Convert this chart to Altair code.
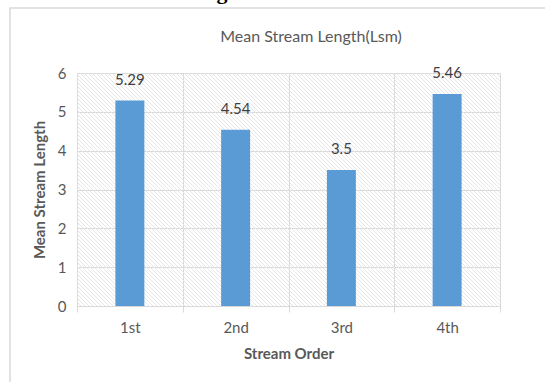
import altair as alt
import pandas as pd

orders = ["1st", "2nd", "3rd", "4th"]
values = [5.29, 4.54, 3.5, 5.46]
labels = ["5.29", "4.54", "3.5", "5.46"]

W, H = 423, 233
FONT = "Lato"
GRAY = "#595959"
GRID = "#d9d9d9"

df = pd.DataFrame({"order": orders, "value": values, "label": labels})
one = pd.DataFrame({"k": [0]})

xenc = alt.X("order:N", sort=orders, title="Stream Order",
             scale=alt.Scale(paddingInner=0, paddingOuter=0),
             axis=alt.Axis(labelAngle=0, tickBand="extent", grid=True, gridColor=GRID,
                           domainColor=GRID, tickColor=GRID, tickSize=6, labelPadding=8,
                           labelFont=FONT, labelFontSize=15, labelColor=GRAY,
                           titleFont=FONT, titleFontSize=15, titleFontWeight="bold",
                           titleColor=GRAY, titlePadding=11))
yenc = alt.Y("value:Q", title="Mean Stream Length",
             scale=alt.Scale(domain=[0, 6]),
             axis=alt.Axis(values=[0, 1, 2, 3, 4, 5, 6], domain=False, ticks=False,
                           labelOverlap=False, gridColor=GRID, labelPadding=11,
                           labelFont=FONT, labelFontSize=15, labelColor=GRAY,
                           titleFont=FONT, titleFontSize=15, titleFontWeight="bold",
                           titleColor=GRAY, titlePadding=10))

# hatch background
hatch = alt.Chart(alt.sequence(-H - 4, W + 4, 4, as_="x0")).transform_calculate(
    x1=f"datum.x0 + {H}", y0="0", y1=f"{H}"
).mark_rule(color="#e6e6e6", strokeWidth=1, clip=True).encode(
    x=alt.X("x0:Q", scale=None, axis=None),
    x2="x1:Q",
    y=alt.Y("y0:Q", scale=None, axis=None),
    y2="y1:Q",
)

bars = alt.Chart(df).mark_bar(color="#5b9bd5", width=alt.RelativeBandSize(0.274)).encode(
    x=xenc, y=yenc
)
text = alt.Chart(df).mark_text(font=FONT, fontSize=15, color="#404040",
                               baseline="middle", dy=-21).encode(
    x=xenc, y=yenc, text="label:N"
)

border = alt.Chart(one).mark_rect(fill=None, stroke=GRID, strokeWidth=1.5).encode(
    x=alt.value(-67), x2=alt.value(600), y=alt.value(-65), y2=alt.value(400)
)
frag = alt.Chart(one).mark_text(text="g", font="Liberation Serif", fontSize=22,
                                fontWeight="bold", color="#000000", baseline="alphabetic").encode(
    x=alt.value(145), y=alt.value(-74)
)
title = alt.Chart(one).mark_text(text="Mean Stream Length(Lsm)", font=FONT, fontSize=16,
                                 fontWeight="normal", color=GRAY, baseline="middle").encode(
    x=alt.value(234), y=alt.value(-36)
)

main = alt.layer(bars, text)
chart = alt.layer(hatch, main, border, frag, title).resolve_scale(x="independent", y="independent").properties(
    width=W, height=H, autosize=alt.AutoSizeParams(type="none"),
    padding={"left": 77, "top": 73, "right": 45, "bottom": 76},
    background="white"
).configure_view(stroke=None)

chart.save("out.html", embed_options={"renderer": "svg", "actions": False})
